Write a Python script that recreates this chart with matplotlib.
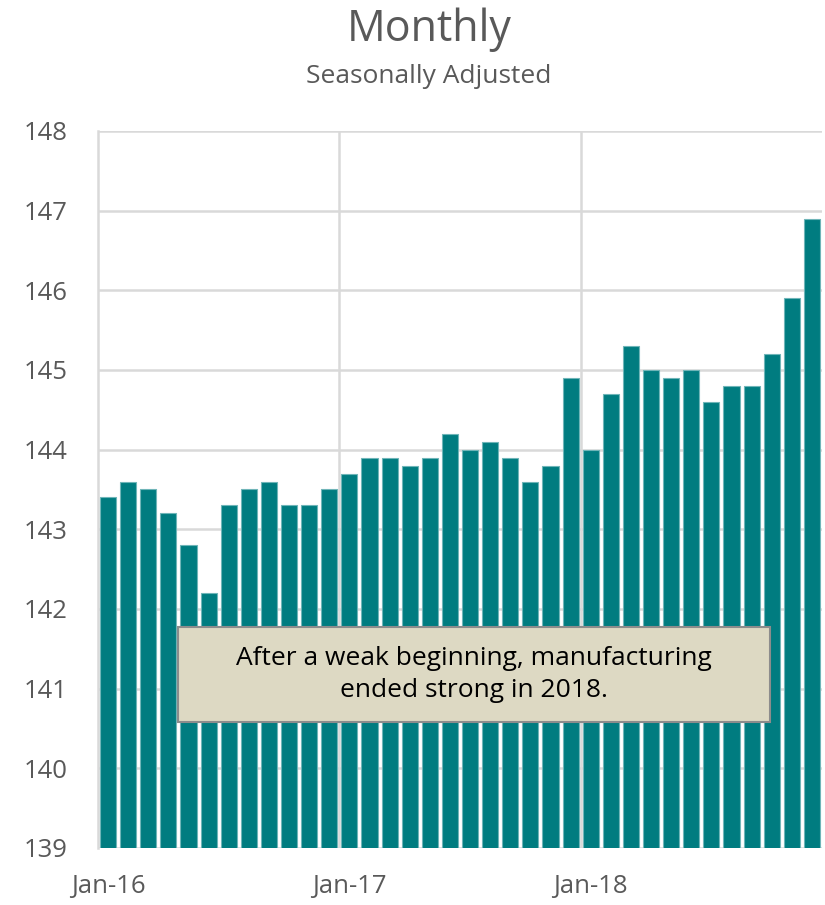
import matplotlib
matplotlib.use('Agg')
import matplotlib.pyplot as plt
from matplotlib.patches import Rectangle

plt.rcParams['font.family'] = ['Open Sans', 'DejaVu Sans']

# monthly values, Jan-16 .. Dec-18
values = [143.4, 143.6, 143.5, 143.2, 142.8, 142.2, 143.3, 143.5, 143.6, 143.3, 143.3, 143.5,
          143.7, 143.9, 143.9, 143.8, 143.9, 144.2, 144.0, 144.1, 143.9, 143.6, 143.8, 144.9,
          144.0, 144.7, 145.3, 145.0, 144.9, 145.0, 144.6, 144.8, 144.8, 145.2, 145.9, 146.9]
tick_pos = [0, 12, 24]
tick_labels = ['Jan-16', 'Jan-17', 'Jan-18']
yticks = list(range(139, 149))
note = 'After a weak beginning, manufacturing\nended strong in 2018.'

fig = plt.figure(figsize=(8.25, 9.05), dpi=100)
ax = fig.add_axes([0.1188, 0.063, 0.8776, 0.7923])

x = range(len(values))
ax.bar(x, values, width=0.8, bottom=0, color='#007C80', edgecolor='#6FB5B8',
       linewidth=0.8, zorder=3)

ax.set_ylim(139, 148)
ax.set_xlim(-0.5, len(values) - 0.5)
ax.set_yticks(yticks)
ax.set_xticks(tick_pos)
ax.set_xticklabels(tick_labels)
ax.tick_params(axis='both', length=0, labelsize=18.5, colors='#595959')
ax.tick_params(axis='y', pad=22)
ax.tick_params(axis='x', pad=19)

ax.grid(axis='y', color='#D9D9D9', linewidth=1.8, zorder=0)
for b in [11.5, 23.5]:
    ax.axvline(b, color='#D9D9D9', linewidth=1.8, zorder=0)

for s in ['top', 'right', 'bottom']:
    ax.spines[s].set_visible(False)
ax.spines['left'].set_color('#D9D9D9')
ax.spines['left'].set_linewidth(1.8)

box = Rectangle((0.1105, 0.1757), 0.8175, 0.1323, transform=ax.transAxes,
                facecolor='#DDD9C3', edgecolor='#8C8C8C', linewidth=1.5, zorder=5)
ax.add_patch(box)
ax.text(0.1105 + 0.8175 / 2, 0.1757 + 0.1323 / 2, note, transform=ax.transAxes,
        ha='center', va='center', fontsize=19, color='black', linespacing=1.4, zorder=6)

fig.text(0.52, 0.967, 'Monthly', ha='center', va='center', fontsize=31, color='#595959')
fig.text(0.52, 0.916, 'Seasonally Adjusted', ha='center', va='center', fontsize=19,
         color='#595959')

fig.savefig('out.png', dpi=100)
